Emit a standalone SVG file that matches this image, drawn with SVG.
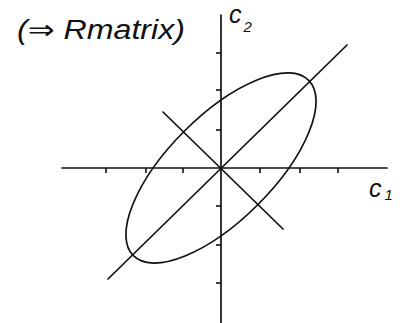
<svg xmlns="http://www.w3.org/2000/svg" width="407" height="323" viewBox="0 0 407 323">
<style>
.ln{stroke:#111;stroke-width:1.7;fill:none;stroke-linecap:round}
.tk{stroke:#111;stroke-width:1.6}
.hw{font-family:"Liberation Sans","DejaVu Sans",sans-serif;font-style:italic;fill:#111}
</style>
<rect width="407" height="323" fill="#fff"/>
<g id="axes">
<line class="ln" x1="62" y1="168" x2="387" y2="168"/>
<line class="ln" x1="221" y1="15" x2="221" y2="323"/>
<g class="tk">
<line x1="106" y1="168" x2="106" y2="173"/>
<line x1="146" y1="168" x2="146" y2="173"/>
<line x1="183" y1="168" x2="183" y2="173"/>
<line x1="260" y1="168" x2="260" y2="173"/>
<line x1="300" y1="168" x2="300" y2="173"/>
<line x1="338" y1="168" x2="338" y2="173"/>
<line x1="216" y1="53" x2="221" y2="53"/>
<line x1="216" y1="90" x2="221" y2="90"/>
<line x1="216" y1="130" x2="221" y2="130"/>
<line x1="216" y1="206" x2="221" y2="206"/>
<line x1="216" y1="245" x2="221" y2="245"/>
<line x1="216" y1="283" x2="221" y2="283"/>
</g>
</g>
<g id="ellipse">
<ellipse class="ln" cx="221" cy="168" rx="124" ry="52" transform="rotate(-45 221 168)"/>
</g>
<g id="principal-axes">
<line class="ln" x1="108" y1="279" x2="347" y2="45"/>
<line class="ln" x1="163" y1="112" x2="283" y2="229"/>
</g>
<g id="labels">
<text class="hw" x="17" y="39" font-size="27" textLength="168" lengthAdjust="spacingAndGlyphs">(⇒ Rmatrix)</text>
<text class="hw" x="229" y="23" font-size="25">c<tspan font-size="15" dx="2" dy="9">2</tspan></text>
<text class="hw" x="369" y="197" font-size="25">c<tspan font-size="15" dx="3" dy="3">1</tspan></text>
</g>
</svg>
